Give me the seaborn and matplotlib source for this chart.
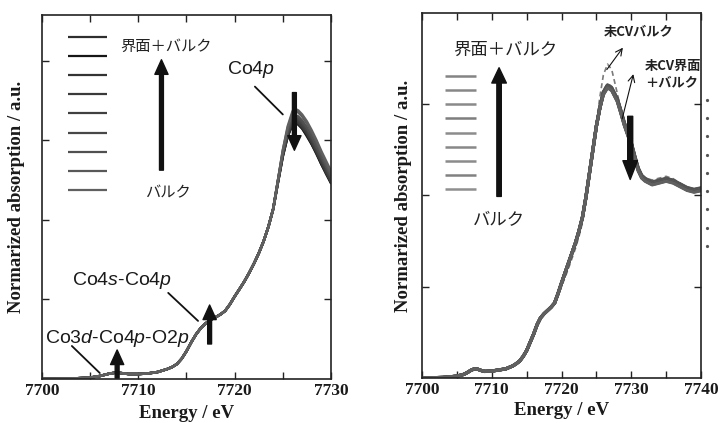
import numpy as np
import pandas as pd
import matplotlib
matplotlib.use("Agg")
import matplotlib.pyplot as plt
from matplotlib.patches import FancyArrowPatch
from matplotlib.ticker import MultipleLocator
import seaborn as sns

# ---------------- Left panel: Co K-edge XANES, 7700-7730 eV ----------------
xticks_left = [7700, 7710, 7720, 7730]
energy_left_edge = [7700, 7703, 7705, 7706, 7706.5, 7707, 7707.5, 7708, 7708.5, 7709,
                    7710, 7711, 7712, 7713, 7713.5, 7714, 7714.5, 7715, 7715.5, 7716,
                    7716.5, 7717, 7717.5, 7718, 7718.5, 7719, 7719.5, 7720, 7720.5, 7721,
                    7721.5, 7722, 7722.5, 7723, 7723.5, 7724]
absorb_left_edge = [0.000, 0.002, 0.007, 0.015, 0.021, 0.027, 0.031, 0.031, 0.028, 0.025,
                    0.025, 0.028, 0.035, 0.050, 0.060, 0.075, 0.102, 0.140, 0.185, 0.225,
                    0.257, 0.280, 0.297, 0.310, 0.324, 0.342, 0.375, 0.415, 0.452, 0.490,
                    0.533, 0.580, 0.632, 0.692, 0.765, 0.855]
energy_left_peak = [7724.5, 7725, 7725.5, 7726, 7726.2, 7726.6, 7727, 7727.5, 7728,
                    7728.5, 7729, 7729.5, 7730]
# one row per sample, from interface+bulk (top of key) to bulk (bottom of key)
absorb_left_peak = [
    [0.990, 1.120, 1.220, 1.280, 1.290, 1.280, 1.260, 1.220, 1.180, 1.130, 1.080, 1.030, 0.985],
    [0.990, 1.120, 1.220, 1.280, 1.290, 1.280, 1.260, 1.225, 1.180, 1.135, 1.080, 1.035, 0.985],
    [0.990, 1.125, 1.225, 1.285, 1.295, 1.285, 1.265, 1.230, 1.185, 1.140, 1.085, 1.035, 0.990],
    [0.995, 1.130, 1.230, 1.290, 1.300, 1.290, 1.270, 1.235, 1.190, 1.140, 1.090, 1.040, 0.990],
    [0.995, 1.130, 1.235, 1.300, 1.310, 1.300, 1.280, 1.245, 1.200, 1.150, 1.100, 1.050, 1.000],
    [1.000, 1.135, 1.240, 1.310, 1.320, 1.310, 1.290, 1.255, 1.210, 1.160, 1.110, 1.060, 1.010],
    [1.000, 1.140, 1.250, 1.320, 1.330, 1.320, 1.300, 1.265, 1.220, 1.170, 1.120, 1.070, 1.020],
    [1.000, 1.150, 1.260, 1.335, 1.350, 1.340, 1.320, 1.285, 1.240, 1.190, 1.135, 1.080, 1.030],
    [1.000, 1.150, 1.270, 1.345, 1.360, 1.350, 1.330, 1.295, 1.250, 1.200, 1.145, 1.095, 1.045],
]
left_colors = ["#2e2e2e", "#161616", "#333333", "#3a3a3a", "#404040",
               "#484848", "#505050", "#585858", "#606060"]

# ---------------- Right panel: 7700-7740 eV ----------------
xticks_right = [7700, 7710, 7720, 7730, 7740]
energy_right_edge = [7700, 7703, 7705, 7706, 7706.5, 7707, 7707.5, 7708, 7708.5, 7709,
                     7710, 7711, 7712, 7713, 7713.5, 7714, 7714.5, 7715, 7715.5, 7716,
                     7716.5, 7717, 7717.5, 7718, 7718.5, 7719, 7719.5, 7720, 7720.5, 7721,
                     7721.5, 7722, 7722.5, 7723, 7723.5, 7724, 7724.5, 7725, 7725.5]
absorb_right_edge = [0.000, 0.003, 0.010, 0.020, 0.030, 0.042, 0.050, 0.048, 0.041, 0.036,
                     0.038, 0.044, 0.050, 0.066, 0.078, 0.093, 0.118, 0.150, 0.195, 0.240,
                     0.292, 0.330, 0.352, 0.370, 0.388, 0.410, 0.462, 0.520, 0.575, 0.630,
                     0.685, 0.740, 0.805, 0.880, 0.990, 1.120, 1.250, 1.380, 1.480]
energy_right_peak = [7726, 7726.6, 7727.2, 7728, 7728.5, 7729, 7729.5, 7730, 7730.5, 7731,
                     7731.5, 7732, 7733, 7734, 7735, 7736, 7737, 7738, 7739, 7740]
absorb_right_peak = [
    [1.568, 1.606, 1.591, 1.531, 1.468, 1.401, 1.346, 1.291, 1.218, 1.151, 1.111, 1.094, 1.074, 1.084, 1.094, 1.084, 1.064, 1.044, 1.034, 1.042],
    [1.566, 1.604, 1.589, 1.529, 1.466, 1.399, 1.344, 1.289, 1.216, 1.149, 1.109, 1.092, 1.072, 1.082, 1.092, 1.082, 1.062, 1.042, 1.032, 1.040],
    [1.564, 1.602, 1.587, 1.527, 1.464, 1.397, 1.342, 1.287, 1.214, 1.147, 1.107, 1.090, 1.070, 1.080, 1.090, 1.080, 1.060, 1.040, 1.030, 1.038],
    [1.562, 1.600, 1.585, 1.525, 1.462, 1.395, 1.340, 1.285, 1.212, 1.145, 1.105, 1.088, 1.068, 1.078, 1.088, 1.078, 1.058, 1.038, 1.028, 1.036],
    [1.560, 1.598, 1.583, 1.523, 1.460, 1.393, 1.338, 1.283, 1.210, 1.143, 1.103, 1.086, 1.066, 1.076, 1.086, 1.076, 1.056, 1.036, 1.026, 1.034],
    [1.558, 1.596, 1.581, 1.521, 1.458, 1.391, 1.336, 1.281, 1.208, 1.141, 1.101, 1.084, 1.064, 1.074, 1.084, 1.074, 1.054, 1.034, 1.024, 1.032],
    [1.556, 1.594, 1.579, 1.519, 1.456, 1.389, 1.334, 1.279, 1.206, 1.139, 1.099, 1.082, 1.062, 1.072, 1.082, 1.072, 1.052, 1.032, 1.022, 1.030],
    [1.554, 1.592, 1.577, 1.517, 1.454, 1.387, 1.332, 1.277, 1.204, 1.137, 1.097, 1.080, 1.060, 1.070, 1.080, 1.070, 1.050, 1.030, 1.020, 1.028],
    [1.552, 1.590, 1.575, 1.515, 1.452, 1.385, 1.330, 1.275, 1.202, 1.135, 1.095, 1.078, 1.058, 1.068, 1.078, 1.068, 1.048, 1.028, 1.018, 1.026],
]
right_colors = ["#505050", "#555555", "#585858", "#474747", "#5c5c5c",
                "#565656", "#5a5a5a", "#4c4c4c", "#606060"]

# spectra measured before cycling (dashed)
energy_right_ref = energy_right_edge + energy_right_peak
absorb_nocv_bulk = [0.000, 0.003, 0.010, 0.020, 0.030, 0.042, 0.050, 0.048, 0.041, 0.036,
                    0.038, 0.044, 0.050, 0.066, 0.078, 0.093, 0.118, 0.150, 0.195, 0.240,
                    0.292, 0.330, 0.352, 0.370, 0.388, 0.410, 0.450, 0.500, 0.550, 0.600,
                    0.655, 0.710, 0.775, 0.850, 0.965, 1.100, 1.250, 1.400, 1.540,
                    1.660, 1.720, 1.690, 1.560, 1.470, 1.393, 1.338, 1.283, 1.212, 1.148,
                    1.112, 1.095, 1.085, 1.095, 1.105, 1.092, 1.068, 1.042, 1.030, 1.030]
absorb_nocv_both = [0.000, 0.003, 0.010, 0.020, 0.030, 0.042, 0.050, 0.048, 0.041, 0.036,
                    0.038, 0.044, 0.050, 0.066, 0.078, 0.093, 0.118, 0.150, 0.195, 0.240,
                    0.292, 0.330, 0.352, 0.370, 0.388, 0.410, 0.455, 0.510, 0.562, 0.615,
                    0.670, 0.725, 0.790, 0.865, 0.978, 1.110, 1.245, 1.385, 1.500,
                    1.578, 1.615, 1.598, 1.530, 1.462, 1.393, 1.338, 1.283, 1.212, 1.146,
                    1.106, 1.088, 1.072, 1.082, 1.093, 1.082, 1.062, 1.040, 1.030, 1.030]

# ---------------- assemble long tables ----------------
rows = []
for i, peak in enumerate(absorb_left_peak):
    for e, a in zip(energy_left_edge + energy_left_peak, absorb_left_edge + peak):
        rows.append((e, a, f"L{i}"))
df_left = pd.DataFrame(rows, columns=["energy", "absorption", "sample"])

rows = []
for i, peak in enumerate(absorb_right_peak):
    for e, a in zip(energy_right_edge + energy_right_peak, absorb_right_edge + peak):
        rows.append((e, a, f"R{i}"))
df_right = pd.DataFrame(rows, columns=["energy", "absorption", "sample"])

rows = []
for name, vals in (("nocv_bulk", absorb_nocv_bulk), ("nocv_both", absorb_nocv_both)):
    for e, a in zip(energy_right_ref, vals):
        rows.append((e, a, name))
df_ref = pd.DataFrame(rows, columns=["energy", "absorption", "sample"])

# ---------------- style ----------------
sns.set_theme(style="ticks")
plt.rcParams["font.family"] = ["Liberation Serif", "DejaVu Serif"]
plt.rcParams["font.weight"] = "bold"
plt.rcParams["mathtext.fontset"] = "custom"
plt.rcParams["mathtext.rm"] = "Liberation Sans:weight=normal"
plt.rcParams["mathtext.it"] = "Liberation Sans:style=italic:weight=normal"
plt.rcParams["axes.edgecolor"] = "#222222"
plt.rcParams["axes.linewidth"] = 1.2

JP = ["Noto Sans CJK JP", "DejaVu Sans"]
SANS = ["Liberation Sans", "DejaVu Sans"]
INK = "#1a1a1a"

fig = plt.figure(figsize=(7.2, 4.23), dpi=100)
axL = fig.add_axes([42 / 720, 1 - 379 / 423, 289 / 720, 364 / 423])
axR = fig.add_axes([422 / 720, 1 - 378 / 423, 279 / 720, 365 / 423])

sns.lineplot(data=df_left, x="energy", y="absorption", hue="sample",
             palette=dict(zip([f"L{i}" for i in range(9)], left_colors)),
             estimator=None, errorbar=None, sort=False, legend=False,
             linewidth=1.8, ax=axL)

sns.lineplot(data=df_ref, x="energy", y="absorption", hue="sample",
             palette={"nocv_bulk": "#7a7a7a", "nocv_both": "#808080"},
             style="sample", dashes={"nocv_bulk": (3, 2), "nocv_both": (3, 2)},
             estimator=None, errorbar=None, sort=False, legend=False,
             linewidth=1.2, ax=axR)
sns.lineplot(data=df_right, x="energy", y="absorption", hue="sample",
             palette=dict(zip([f"R{i}" for i in range(9)], right_colors)),
             estimator=None, errorbar=None, sort=False, legend=False,
             linewidth=2.3, ax=axR)


def style_axes(ax, xticks, yticks, ymax):
    ax.set_xlim(xticks[0], xticks[-1])
    ax.set_ylim(0, ymax)
    ax.set_xticks(xticks, labels=[str(t) for t in xticks])
    ax.xaxis.set_minor_locator(MultipleLocator(5))
    ax.set_yticks(yticks, labels=[])
    ax.tick_params(which="both", direction="in", top=True, right=True,
                   length=5, width=1.0, color="#222222", pad=3,
                   labelsize=12.5, labelcolor=INK)
    for s in ax.spines.values():
        s.set_visible(True)
    ax.set_xlabel("Energy / eV", fontsize=13.5, fontweight="bold", color=INK)
    ax.set_ylabel("Normarized absorption / a.u.", fontsize=13.5,
                  fontweight="bold", color=INK)
    ax.xaxis.label.set_va("center")
    ax.yaxis.label.set_va("center")


style_axes(axL, xticks_left, [0.4, 0.8, 1.2, 1.6], 1.83)
style_axes(axR, xticks_right, [0.5, 1.0, 1.5], 2.0)
axL.xaxis.set_label_coords(0.5, -0.096)
axL.yaxis.set_label_coords(-0.087, 0.5)
axR.xaxis.set_label_coords(0.5, -0.09)
axR.yaxis.set_label_coords(-0.068, 0.5)


def fat_arrow(ax, x, y_from, y_to, head_len=1.05, head_w=0.95, tail_w=0.28):
    ax.add_patch(FancyArrowPatch(
        (x, y_from), (x, y_to),
        arrowstyle=f"simple,head_length={head_len},head_width={head_w},tail_width={tail_w}",
        mutation_scale=10, color="#111111", shrinkA=0, shrinkB=0, zorder=5))


def leader(ax, p0, p1, lw=1.3, style="-"):
    ax.annotate("", xy=p1, xytext=p0,
                arrowprops=dict(arrowstyle=style, lw=lw, color="#111111",
                                shrinkA=0, shrinkB=0))


# key swatches drawn in axes fraction
for col, yf in zip(left_colors, np.linspace(0.94, 0.519, 9)):
    axL.plot([0.09, 0.225], [yf, yf], color=col, lw=1.6,
             transform=axL.transAxes, solid_capstyle="butt")
for col, yf in zip(right_colors, np.linspace(0.827, 0.518, 9)):
    axR.plot([0.082, 0.194], [yf, yf], color=col, lw=1.8, alpha=0.7,
             transform=axR.transAxes, solid_capstyle="butt")

# faint dotted column just outside the right frame
axR.plot(np.full(9, 1.0215), np.linspace(0.762, 0.362, 9), ls="none",
         marker="o", ms=1.3, color="#555555", transform=axR.transAxes,
         clip_on=False)

# left panel annotations
axL.text(7712.9, 1.67, "界面＋バルク", family=JP, fontsize=11,
         fontweight="normal", ha="center", va="center", color="#222222")
axL.text(7713.1, 0.936, "バルク", family=JP, fontsize=11,
         fontweight="normal", ha="center", va="center", color="#222222")
fat_arrow(axL, 7712.4, 1.05, 1.605)
fat_arrow(axL, 7726.2, 1.44, 1.15)
fat_arrow(axL, 7707.8, 0.005, 0.146)
fat_arrow(axL, 7717.4, 0.176, 0.372)

axL.text(7719.2, 1.555, r"Co4$\mathit{p}$", family=SANS, fontsize=14,
         fontweight="normal", ha="left", va="center", color="#1a1a1a")
leader(axL, (7722.1, 1.47), (7725.0, 1.33))
axL.text(7703.1, 0.493, r"Co4$\mathit{s}$-Co4$\mathit{p}$", family=SANS,
         fontsize=14, fontweight="normal", ha="left", va="center",
         color="#1a1a1a")
leader(axL, (7713.1, 0.433), (7716.2, 0.292))
axL.text(7700.3, 0.206, r"Co3$\mathit{d}$-Co4$\mathit{p}$-O2$\mathit{p}$",
         family=SANS, fontsize=14, fontweight="normal", ha="left",
         va="center", color="#1a1a1a")
leader(axL, (7703.1, 0.166), (7706.0, 0.03))

# right panel annotations
axR.text(7711.9, 1.80, "界面＋バルク", family=JP, fontsize=12.5,
         fontweight="normal", ha="center", va="center", color="#222222")
axR.text(7711.05, 0.863, "バルク", family=JP, fontsize=12.5,
         fontweight="normal", ha="center", va="center", color="#222222")
fat_arrow(axR, 7711.05, 0.995, 1.70, head_len=1.1, head_w=1.05, tail_w=0.32)
fat_arrow(axR, 7729.85, 1.434, 1.088, head_len=1.35, head_w=1.05, tail_w=0.36)

axR.text(7731.0, 1.896, "未CVバルク", family=JP, fontsize=9.5,
         fontweight="bold", ha="center", va="center", color="#222222")
axR.text(7732.0, 1.665, "未CV界面\n＋バルク", family=JP, fontsize=9.5,
         fontweight="bold", ha="left", va="center", color="#222222",
         linespacing=1.15)
leader(axR, (7726.5, 1.69), (7728.8, 1.81), lw=0.8, style="->")
leader(axR, (7728.7, 1.42), (7730.3, 1.665), lw=0.8, style="->")

fig.savefig("out.png", dpi=100)
